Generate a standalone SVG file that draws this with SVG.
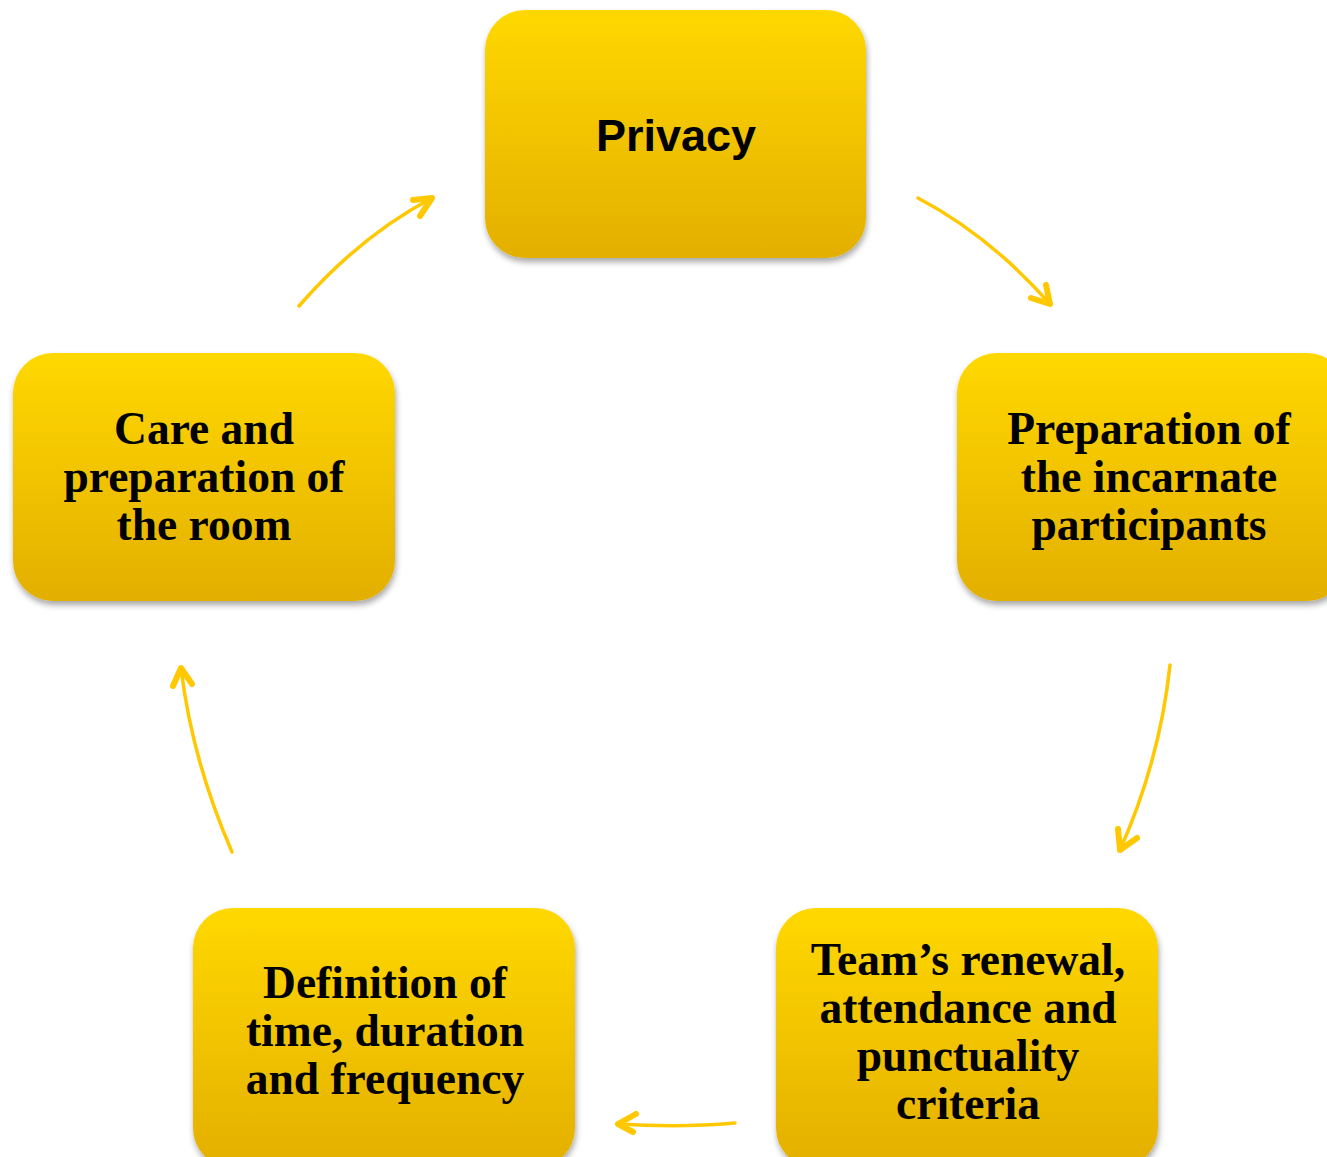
<svg xmlns="http://www.w3.org/2000/svg" width="1327" height="1157" viewBox="0 0 1327 1157">
<defs>
<linearGradient id="g" x1="0" y1="0" x2="0" y2="1">
<stop offset="0" stop-color="#FFD800"/>
<stop offset="1" stop-color="#E3AF00"/>
</linearGradient>
<filter id="sh" x="-10%" y="-10%" width="125%" height="130%">
<feGaussianBlur in="SourceAlpha" stdDeviation="3"/>
<feOffset dx="1" dy="4"/>
<feComponentTransfer><feFuncA type="linear" slope="0.35"/></feComponentTransfer>
<feMerge><feMergeNode/><feMergeNode in="SourceGraphic"/></feMerge>
</filter>
</defs>
<style>
.box{fill:url(#g);filter:url(#sh)}
.serif{font-family:"Liberation Serif","Times New Roman",serif;font-weight:bold;font-size:45.5px;fill:#000;text-anchor:middle}
.sans{font-family:"Liberation Sans",Arial,sans-serif;font-weight:bold;font-size:45px;fill:#000;text-anchor:middle}
.conn{fill:none;stroke:#FFC800;stroke-width:3.5;stroke-linecap:round;stroke-linejoin:round}
.head{fill:none;stroke:#FFC800;stroke-width:6;stroke-linecap:round;stroke-linejoin:round}
</style>
<rect width="1327" height="1157" fill="#fff"/>
<g id="connectors">
<path class="conn" d="M918,198 Q990,236 1050,304"/>
<path class="head" d="M1046,285 L1050,304 L1031,298"/>
<path class="conn" d="M1170,665 Q1160,760 1120,850"/>
<path class="head" d="M1118,829 L1120,850 L1137,838"/>
<path class="conn" d="M735,1123 Q680,1128 618,1124"/>
<path class="head" d="M636,1114 L618,1124 L633,1132"/>
<path class="conn" d="M232,852 Q192,760 181,668"/>
<path class="head" d="M173,686 L181,668 L192,684"/>
<path class="conn" d="M299,306 Q360,236 432,198"/>
<path class="head" d="M413,200 L432,198 L420,216"/>
</g>
<g id="node-privacy">
<rect class="box" x="485" y="10" width="381" height="248" rx="40"/>
<text class="sans" x="676" y="151">Privacy</text>
</g>
<g id="node-preparation">
<rect class="box" x="957" y="353" width="390" height="248" rx="40"/>
<text class="serif" x="1149" y="444">Preparation of</text>
<text class="serif" x="1149" y="492">the incarnate</text>
<text class="serif" x="1149" y="540">participants</text>
</g>
<g id="node-team">
<rect class="box" x="776" y="908" width="382" height="260" rx="40"/>
<text class="serif" x="968" y="975">Team’s renewal,</text>
<text class="serif" x="968" y="1023">attendance and</text>
<text class="serif" x="968" y="1071">punctuality</text>
<text class="serif" x="968" y="1119">criteria</text>
</g>
<g id="node-definition">
<rect class="box" x="193" y="908" width="382" height="260" rx="40"/>
<text class="serif" x="385" y="998">Definition of</text>
<text class="serif" x="385" y="1046">time, duration</text>
<text class="serif" x="385" y="1094">and frequency</text>
</g>
<g id="node-care">
<rect class="box" x="13" y="353" width="382" height="248" rx="40"/>
<text class="serif" x="204" y="444">Care and</text>
<text class="serif" x="204" y="492">preparation of</text>
<text class="serif" x="204" y="540">the room</text>
</g>
</svg>
